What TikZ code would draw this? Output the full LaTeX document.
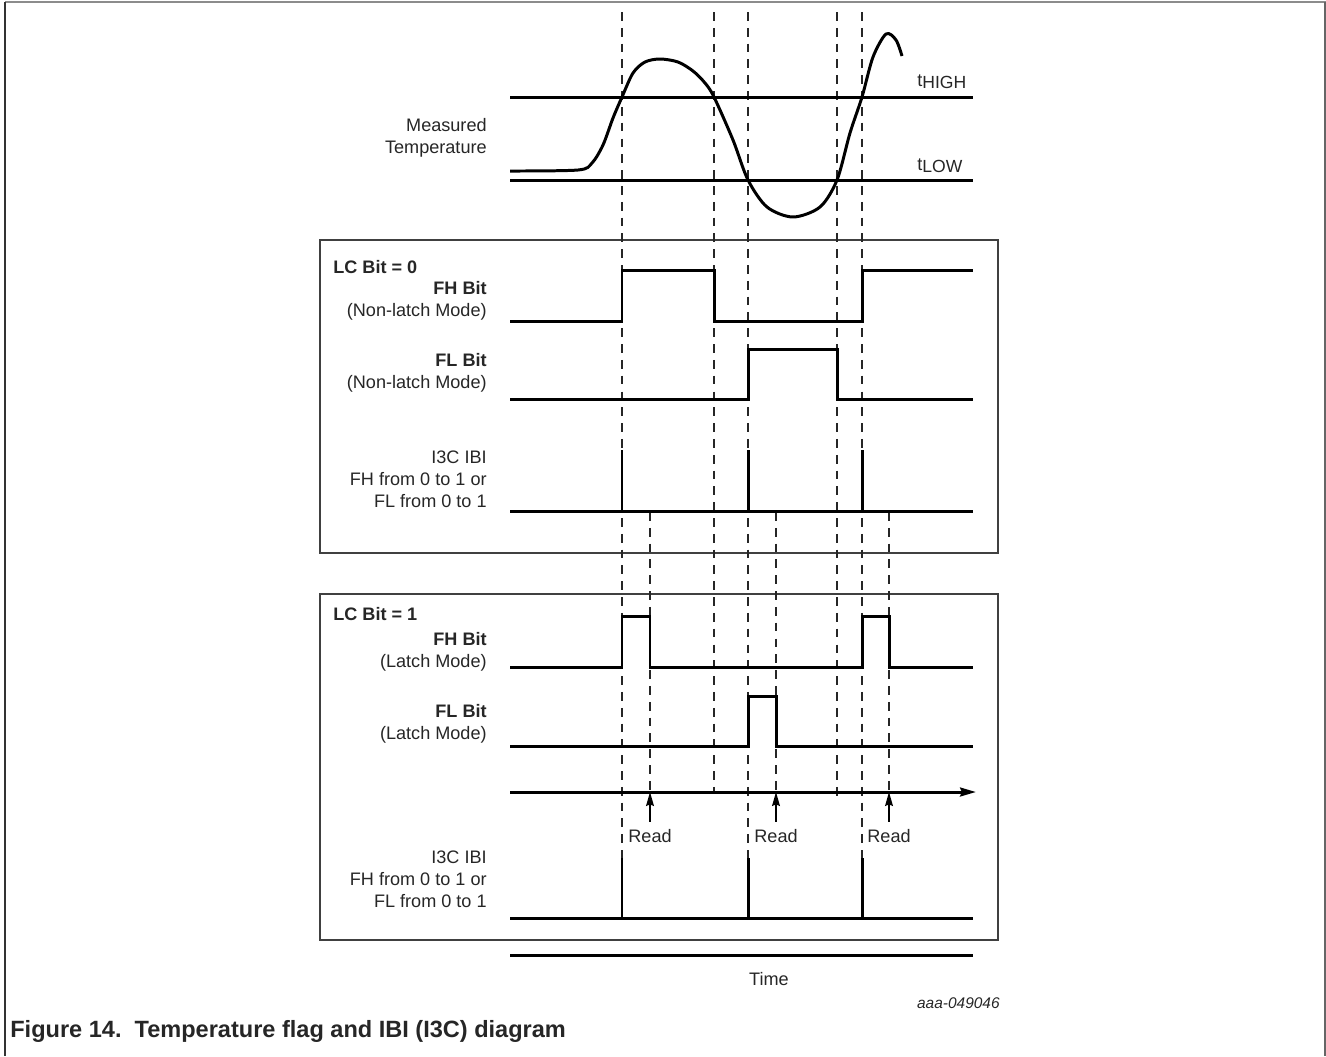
\documentclass[tikz,border=0pt]{standalone}
\usepackage{fontspec}
\setmainfont{Liberation Sans}
\usetikzlibrary{arrows.meta}

\begin{document}
\begin{tikzpicture}[x=0.02cm, y=-0.02cm,
    sig/.style={line width=1.7pt, line join=miter},
    guide/.style={black!85, line width=0.6pt, dash pattern=on 5pt off 4pt},
    panel/.style={draw=black!75, line width=0.9pt},
    lbl/.style={anchor=east, align=right, inner sep=0pt, text=black!85,
                font=\fontsize{10.3}{12.6}\selectfont},
    txt/.style={inner sep=0pt, text=black!85, font=\fontsize{10.3}{12.6}\selectfont},
    rdarrow/.style={line width=0.8pt, -{Stealth[length=8pt, width=4.5pt, inset=1pt]}, shorten <=4pt}]
  \useasboundingbox (0,0) rectangle (1326,1056);

  % page frame
  \draw[black!45, line width=1.1pt] (5,2) -- (1326,2);
  \draw[black!80, line width=0.6pt] (5,2) -- (5,1056);
  \draw[black!60, line width=1pt] (1325,2) -- (1325,1056);

  % panels
  \draw[panel] (320,240) rectangle (998,553);
  \draw[panel] (320,594) rectangle (998,940);

  % guide lines
  \foreach \x/\yb in {622/858, 714/793, 748/858, 837/802, 862/858}
    \draw[guide] (\x,12) -- (\x,\yb);
  \foreach \x in {650, 776, 889}
    \draw[guide] (\x,512) -- (\x,790);

  % measured temperature
  \draw[sig] (510,97) -- (973,97);
  \draw[sig] (510,180) -- (973,180);
  \draw[sig, line join=round] plot[smooth, tension=0.5] coordinates {(510,171) (578,170) (592,163) (603,145)
    (613,118) (622,97) (633,73) (645,62) (660,59) (678,62) (693,71) (705,83) (714,97) (733,140) (748,180)
    (767,207) (793,217) (820,207) (837,180) (850,133) (862,97) (873,57) (886,34) (896,40) (902,56)};
  \node[lbl] (meas) at (487,138) {Measured\\Temperature};
  \node[txt, anchor=base west] (thigh) at (917,86) {t\raisebox{-1.5pt}{\fontsize{10}{11}\selectfont HIGH}};
  \node[txt, anchor=base west] (tlow) at (917,170) {t\raisebox{-1.5pt}{\fontsize{10}{11}\selectfont LOW}};

  % LC bit = 0
  \node[txt, anchor=west, font=\fontsize{10.3}{12.6}\selectfont\bfseries] (lcz) at (333,267) {LC Bit = 0};
  \node[lbl] (fhn) at (487,301) {\textbf{FH Bit}\\(Non-latch Mode)};
  \draw[sig] (510,321) -- (622,321) -- (622,270) -- (714,270) -- (714,321) -- (862,321) -- (862,270) -- (973,270);
  \node[lbl] (fln) at (487,373) {\textbf{FL Bit}\\(Non-latch Mode)};
  \draw[sig] (510,399) -- (748,399) -- (748,349) -- (837,349) -- (837,399) -- (973,399);
  \node[lbl] (ibiz) at (487,479) {I3C IBI\\FH from 0 to 1 or\hspace{3pt}\\FL from 0 to 1};
  \draw[sig] (510,511) -- (973,511);
  \foreach \x in {622, 748, 862}
    \draw[sig] (\x,511) -- (\x,450);

  % LC bit = 1
  \node[txt, anchor=west, font=\fontsize{10.3}{12.6}\selectfont\bfseries] (lco) at (333,614) {LC Bit = 1};
  \node[lbl] (fhl) at (487,652) {\textbf{FH Bit}\\(Latch Mode)};
  \draw[sig] (510,667) -- (622,667) -- (622,616) -- (650,616) -- (650,667) -- (862,667) -- (862,616) -- (889,616) -- (889,667) -- (973,667);
  \node[lbl] (fll) at (487,724) {\textbf{FL Bit}\\(Latch Mode)};
  \draw[sig] (510,746) -- (748,746) -- (748,696) -- (776,696) -- (776,746) -- (973,746);
  \coordinate (tax) at (510,792);
  \coordinate (tend) at (976,792);
  \draw[line width=1.7pt, -{Stealth[length=9pt, width=5pt, inset=1pt]}] (tax) -- (tend);
  \node[txt] (rda) at (650,836) {Read};
  \node[txt] (rdb) at (776,836) {Read};
  \node[txt] (rdc) at (889,836) {Read};
  \foreach \r in {rda, rdb, rdc}
    \draw[rdarrow] (\r.north) -- (\r.north |- tax);
  \node[lbl] (ibio) at (487,879) {I3C IBI\\FH from 0 to 1 or\hspace{3pt}\\FL from 0 to 1};
  \draw[sig] (510,918) -- (973,918);
  \foreach \x in {622, 748, 862}
    \draw[sig] (\x,918) -- (\x,858);

  % time
  \draw[sig] (510,955) -- (973,955);
  \node[txt] (time) at (769,979) {Time};
  \node[txt, anchor=east, font=\fontsize{8.8}{10}\selectfont\itshape] (docid) at (1000,1003) {aaa-049046};
  \node[txt, anchor=west, font=\fontsize{13.4}{15}\selectfont\bfseries] (capt) at (10,1031) {Figure 14.\ \ Temperature flag and IBI (I3C) diagram};
\end{tikzpicture}
\end{document}
